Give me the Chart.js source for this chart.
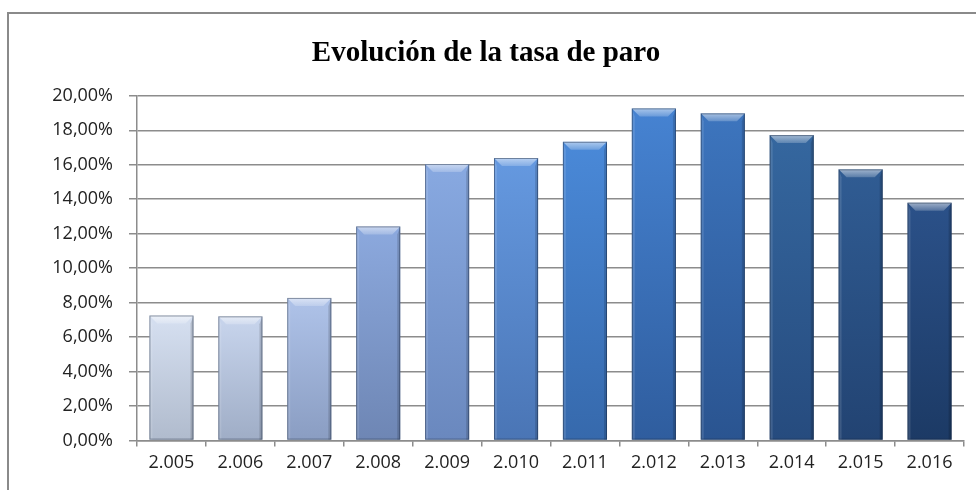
<!DOCTYPE html>
<html>
<head>
<meta charset="utf-8">
<script src="https://cdn.jsdelivr.net/npm/chart.js@4/dist/chart.umd.min.js"></script>
<style>
  html, body { margin: 0; padding: 0; background: #fff; }
  #wrap { width: 976px; height: 490px; position: relative; }
</style>
</head>
<body>
<div id="wrap"><canvas id="paroChart"></canvas></div>
<script>
// data
const years = ['2.005', '2.006', '2.007', '2.008', '2.009', '2.010', '2.011', '2.012', '2.013', '2.014', '2.015', '2.016'];
const paroRate = [7.25, 7.2, 8.27, 12.42, 16.04, 16.39, 17.33, 19.27, 18.98, 17.72, 15.73, 13.8];
const chartTitle = 'Evolución de la tasa de paro';

// top / bottom shade for each bar, light grey-blue to dark blue
const barTones = [
    ['#d6e0f1', '#b0bbcd'],
    ['#c8d5ed', '#9fadc6'],
    ['#afc3e9', '#8a9dc2'],
    ['#8ca9de', '#6e86b4'],
    ['#88a9e1', '#6a88be'],
    ['#6599e0', '#4a75b5'],
    ['#4a89d8', '#3669ac'],
    ['#4683d2', '#2f5d9e'],
    ['#3d75be', '#2a5490'],
    ['#35679f', '#264b7e'],
    ['#305c93', '#224372'],
    ['#2b5189', '#1c3a65']
];

function barGradient(context) {
    const chart = context.chart;
    const area = chart.chartArea;
    const tone = barTones[context.dataIndex];
    if (!area) return tone[0];
    const y = chart.scales.y;
    const top = y.getPixelForValue(paroRate[context.dataIndex]);
    const g = chart.ctx.createLinearGradient(0, top, 0, y.getPixelForValue(0));
    g.addColorStop(0, tone[0]);
    g.addColorStop(1, tone[1]);
    return g;
}

// outer frame of the excel chart, right and bottom run off the picture
const framePlugin = {
    id: 'frame',
    beforeDraw(chart) {
        const ctx = chart.ctx;
        ctx.save();
        ctx.strokeStyle = '#8a8a8a';
        ctx.lineWidth = 2;
        ctx.strokeRect(8, 13, 1000, 600);
        ctx.restore();
    }
};

// bevel look: light top facet, soft side edges
const bevelPlugin = {
    id: 'bevel',
    afterDatasetsDraw(chart) {
        const ctx = chart.ctx;
        const meta = chart.getDatasetMeta(0);
        ctx.save();
        meta.data.forEach((bar) => {
            const left = bar.x - bar.width / 2;
            const right = bar.x + bar.width / 2;
            const top = bar.y;
            const bottom = bar.base;
            const b = 8;
            // top facet
            const tg = ctx.createLinearGradient(0, top, 0, top + b);
            tg.addColorStop(0, 'rgba(255,255,255,0.55)');
            tg.addColorStop(1, 'rgba(255,255,255,0.2)');
            ctx.fillStyle = tg;
            ctx.beginPath();
            ctx.moveTo(left, top);
            ctx.lineTo(right, top);
            ctx.lineTo(right - b, top + b);
            ctx.lineTo(left + b, top + b);
            ctx.closePath();
            ctx.fill();
            // left facet
            ctx.fillStyle = 'rgba(255,255,255,0.12)';
            ctx.beginPath();
            ctx.moveTo(left, top);
            ctx.lineTo(left + 3, top + b);
            ctx.lineTo(left + 3, bottom);
            ctx.lineTo(left, bottom);
            ctx.closePath();
            ctx.fill();
            // right facet
            ctx.fillStyle = 'rgba(0,0,0,0.15)';
            ctx.beginPath();
            ctx.moveTo(right, top);
            ctx.lineTo(right - 3, top + b);
            ctx.lineTo(right - 3, bottom);
            ctx.lineTo(right, bottom);
            ctx.closePath();
            ctx.fill();
            // outline
            ctx.strokeStyle = 'rgba(20,35,60,0.45)';
            ctx.lineWidth = 1;
            ctx.strokeRect(left + 0.5, top + 0.5, right - left - 1, bottom - top - 1);
        });
        ctx.restore();
    }
};

new Chart(document.getElementById('paroChart'), {
    type: 'bar',
    data: {
        labels: years,
        datasets: [{
            label: 'Tasa de paro',
            data: paroRate,
            backgroundColor: barGradient,
            borderWidth: 0,
            barPercentage: 0.64,
            categoryPercentage: 1
        }]
    },
    options: {
        responsive: true,
        maintainAspectRatio: false,
        animation: false,
        layout: {
            padding: { left: 8, right: 12, top: 18, bottom: 10 }
        },
        plugins: {
            legend: { display: false },
            tooltip: { enabled: false },
            title: {
                display: true,
                text: chartTitle,
                color: '#000',
                font: { family: '"Liberation Serif", "Times New Roman", serif', size: 29, weight: 'bold' },
                padding: { top: 18, bottom: 25 }
            }
        },
        scales: {
            y: {
                min: 0,
                max: 20,
                ticks: {
                    stepSize: 2,
                    color: '#222',
                    padding: 16,
                    font: { family: '"Open Sans", sans-serif', size: 18 },
                    callback: (v) => v.toFixed(2).replace('.', ',') + '%'
                },
                grid: {
                    color: '#8c8c8c',
                    lineWidth: 1.5,
                    tickLength: 8,
                    tickColor: '#8c8c8c'
                },
                border: { color: '#8c8c8c', width: 1.5 },
                afterFit(scale) { scale.width = 129; }
            },
            x: {
                ticks: {
                    color: '#222',
                    padding: 6,
                    font: { family: '"Open Sans", sans-serif', size: 18 }
                },
                grid: {
                    offset: true,
                    drawOnChartArea: false,
                    tickLength: 6,
                    color: '#8c8c8c',
                    lineWidth: 1.5
                },
                border: { color: '#8c8c8c', width: 1.5 }
            }
        }
    },
    plugins: [framePlugin, bevelPlugin]
});
</script>
</body>
</html>
